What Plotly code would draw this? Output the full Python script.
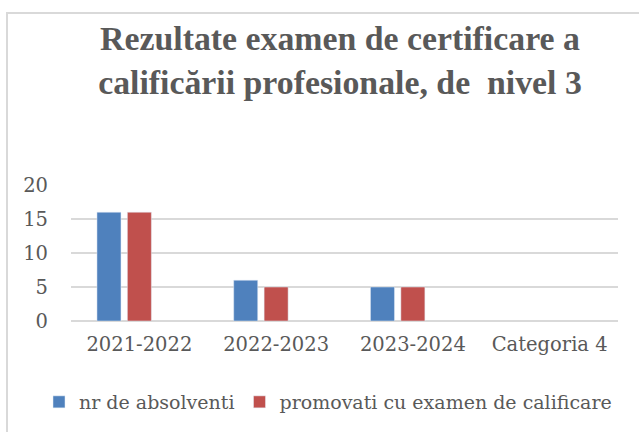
import plotly.graph_objects as go

categories = ["2021-2022", "2022-2023", "2023-2024", "Categoria 4"]
absolventi = [16, 6, 5, None]
promovati = [16, 5, 5, None]
series3 = [None, None, None, None]
tick_vals = [0, 5, 10, 15, 20]

L, R, T, B = 71, 21, 185, 111
W, H = 639, 432
pw, ph = W - L - R, H - T - B

def px_to_paper_x(x):
    return (x - L) / pw

def px_to_paper_y(y):
    return (H - B - y) / ph

fig = go.Figure()
fig.add_trace(go.Bar(x=categories, y=absolventi, name="nr de absolventi",
                     marker=dict(color="#4f81bd")))
fig.add_trace(go.Bar(x=categories, y=promovati, name="promovati cu examen de calificare",
                     marker=dict(color="#c0504d")))
fig.add_trace(go.Bar(x=categories, y=series3, name="Seria 3", showlegend=False,
                     marker=dict(color="#9bbb59")))

axis_font = dict(family="DejaVu Serif", size=19.5, color="#595959")

fig.update_layout(
    width=W, height=H,
    margin=dict(l=L, r=R, t=T, b=B, autoexpand=False),
    paper_bgcolor="white", plot_bgcolor="white",
    barmode="group", bargap=0.333, bargroupgap=0.21,
    title=dict(
        text="Rezultate examen de certificare a<br>calificării profesionale, de  nivel 3",
        font=dict(family="Liberation Serif", size=33.8, color="#595959", weight="bold"),
        x=340 / W, xref="container", xanchor="center",
        y=1 - 50 / H, yref="container", yanchor="top",
    ),
    xaxis=dict(tickfont=axis_font, showgrid=False, showline=False, ticks="",
               ticklabelstandoff=9),
    yaxis=dict(range=[0, 20], tickvals=tick_vals, tickfont=axis_font,
               showgrid=True, gridcolor="#d9d9d9", gridwidth=1.5,
               zeroline=True, zerolinecolor="#d9d9d9", zerolinewidth=1.5,
               showline=False, ticks="", ticklabelstandoff=22),
    legend=dict(orientation="h", x=px_to_paper_x(39), xanchor="left",
                y=px_to_paper_y(383), yanchor="top",
                font=dict(family="DejaVu Serif", size=19, color="#595959"),
                itemwidth=30, traceorder="normal"),
    showlegend=True,
    shapes=[dict(type="rect", xref="paper", yref="paper",
                 x0=px_to_paper_x(7), x1=px_to_paper_x(660),
                 y0=px_to_paper_y(450), y1=px_to_paper_y(13),
                 line=dict(color="#d9d9d9", width=2), layer="below")],
)

fig.write_html("out.html", config={"displayModeBar": False},
               post_script="document.body.style.margin='0';document.body.style.overflow='hidden';")
